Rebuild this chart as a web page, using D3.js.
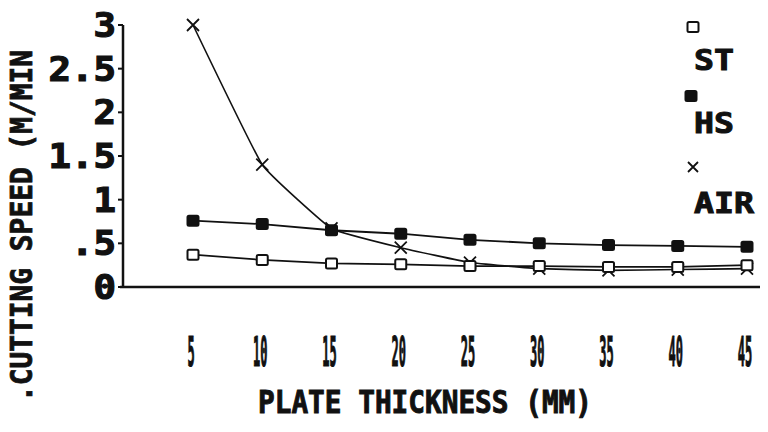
<!DOCTYPE html>
<html>
<head>
<meta charset="utf-8">
<script src="https://cdn.jsdelivr.net/npm/d3@7"></script>
<style>
  body { margin: 0; background: #fff; }
  text { font-family: "DejaVu Sans Mono", monospace; font-weight: bold; fill: #111; stroke: #111; }
</style>
</head>
<body>
<div id="chart"></div>
<script>
// plate thickness (mm)
const thickness = [5, 10, 15, 20, 25, 30, 35, 40, 45];
// cutting speed (m/min)
const st  = [0.37, 0.31, 0.27, 0.26, 0.24, 0.24, 0.23, 0.23, 0.25];
const hs  = [0.76, 0.72, 0.65, 0.61, 0.54, 0.50, 0.48, 0.47, 0.46];
const air = [3.0, 1.40, 0.67, 0.45, 0.28, 0.21, 0.19, 0.20, 0.21];
const yTicks = [0, 0.5, 1, 1.5, 2, 2.5, 3];
const yTickLabels = ["0", ".5", "1", "1.5", "2", "2.5", "3"];
const legendNames = ["ST", "HS", "AIR"];

let conf = {width: 768, height: 432, left: 123, top: 25, right: 760, bottom: 287};

const svg = d3.select("#chart")
    .append("svg")
    .attr("width", conf.width)
    .attr("height", conf.height);

let x = d3.scaleLinear().domain([5, 45]).range([193, 747]);
let y = d3.scaleLinear().domain([0, 3]).range([conf.bottom, conf.top]);

// axes
svg.append("line")
    .attr("x1", conf.left).attr("x2", conf.left)
    .attr("y1", y(3)).attr("y2", conf.bottom)
    .attr("stroke", "#111").attr("stroke-width", 2.5);
svg.append("line")
    .attr("x1", conf.left - 3).attr("x2", conf.right)
    .attr("y1", conf.bottom).attr("y2", conf.bottom)
    .attr("stroke", "#111").attr("stroke-width", 2.5);

// y ticks
svg.selectAll(".ytick").data(yTicks).enter().append("line")
    .attr("x1", conf.left - 5).attr("x2", conf.left)
    .attr("y1", d => y(d)).attr("y2", d => y(d))
    .attr("stroke", "#111").attr("stroke-width", 2);

svg.selectAll(".ylab").data(yTicks).enter().append("text")
    .attr("x", 116)
    .attr("y", d => y(d) + 12)
    .attr("text-anchor", "end")
    .attr("font-size", 33)
    .attr("stroke-width", 1.2)
    .attr("textLength", (d, i) => yTickLabels[i].length * 22.5)
    .attr("lengthAdjust", "spacingAndGlyphs")
    .text((d, i) => yTickLabels[i]);

// x tick labels (tall, narrow)
svg.selectAll(".xlab").data(thickness).enter().append("text")
    .attr("transform", d => `translate(${x(d) - 2},366) scale(0.3,1)`)
    .attr("text-anchor", "middle")
    .attr("font-size", 40)
    .attr("stroke-width", 1.2)
    .text(d => d);

// axis titles
svg.append("text")
    .attr("x", 258).attr("y", 413)
    .attr("font-size", 32)
    .attr("stroke-width", 1)
    .attr("textLength", 334)
    .attr("lengthAdjust", "spacingAndGlyphs")
    .text("PLATE THICKNESS (MM)");

svg.append("text")
    .attr("transform", "translate(32,402) rotate(-90)")
    .attr("font-size", 30)
    .attr("stroke-width", 0.8)
    .attr("textLength", 352)
    .attr("lengthAdjust", "spacingAndGlyphs")
    .text(".CUTTING SPEED (M/MIN");

// series lines
const line = d3.line()
    .x((d, i) => x(thickness[i]))
    .y(d => y(d));

[st, hs].forEach(s => {
    svg.append("path")
        .datum(s)
        .attr("fill", "none")
        .attr("stroke", "#111")
        .attr("stroke-width", 1.8)
        .attr("d", line);
});
svg.append("path")
    .datum(air)
    .attr("fill", "none")
    .attr("stroke", "#111")
    .attr("stroke-width", 1.6)
    .attr("d", line.curve(d3.curveCardinal.tension(0.7)));

// markers
function square(g, cx, cy, filled) {
    g.append("rect")
        .attr("x", cx - 5.5).attr("y", cy - 5)
        .attr("width", 11).attr("height", 10)
        .attr("rx", 1.5)
        .attr("fill", filled ? "#111" : "#fff")
        .attr("stroke", "#111").attr("stroke-width", 2);
}
function cross(g, cx, cy, r) {
    g.append("path")
        .attr("d", `M${cx - r},${cy - r}L${cx + r},${cy + r}M${cx - r},${cy + r}L${cx + r},${cy - r}`)
        .attr("stroke", "#111").attr("stroke-width", 1.8).attr("fill", "none");
}

const marks = svg.append("g");
air.forEach((d, i) => cross(marks, x(thickness[i]), y(d), 6));
hs.forEach((d, i) => square(marks, x(thickness[i]), y(d), true));
st.forEach((d, i) => square(marks, x(thickness[i]), y(d), false));

// legend
const leg = svg.append("g");
square(leg, 693, 27, false);
square(leg, 691, 96, true);
cross(leg, 693, 167, 5);
const legY = [70, 133, 213];
leg.selectAll("text").data(legendNames).enter().append("text")
    .attr("x", 694)
    .attr("y", (d, i) => legY[i])
    .attr("font-size", 28)
    .attr("stroke-width", 1)
    .attr("textLength", d => d.length * 20)
    .attr("lengthAdjust", "spacingAndGlyphs")
    .text(d => d);
</script>
</body>
</html>
